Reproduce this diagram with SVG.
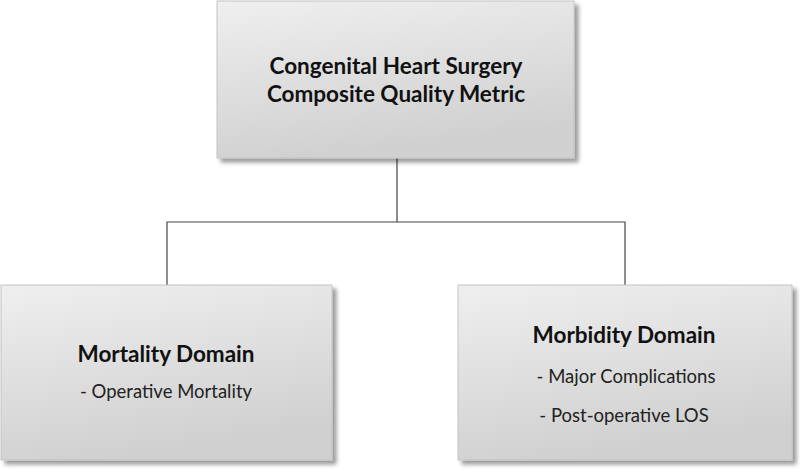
<svg xmlns="http://www.w3.org/2000/svg" width="800" height="470" viewBox="0 0 800 470">
<defs>
<linearGradient id="g" x1="0" y1="0" x2="0.3" y2="1">
<stop offset="0" stop-color="#efefef"/>
<stop offset="1" stop-color="#d0d0d0"/>
</linearGradient>
<filter id="sh" x="-10%" y="-10%" width="130%" height="130%">
<feGaussianBlur in="SourceAlpha" stdDeviation="2.2"/>
<feOffset dx="4" dy="4" result="b"/>
<feComponentTransfer><feFuncA type="linear" slope="0.4"/></feComponentTransfer>
<feMerge><feMergeNode/><feMergeNode in="SourceGraphic"/></feMerge>
</filter>
</defs>
<style>
.box{fill:url(#g);stroke:#c4c4c4;stroke-width:1;filter:url(#sh)}
.t{font-family:Lato,"Open Sans","Liberation Sans",sans-serif;fill:#111;text-anchor:middle}
.b{font-weight:bold;font-size:22.5px}
.s{font-size:18.5px;fill:#222}
.c{fill:none;stroke:#444;stroke-width:1.2}
</style>
<rect width="800" height="470" fill="#fff"/>
<g id="connectors">
<path class="c" d="M397 158 V222 M167 285 V222 H625 V285"/>
</g>
<g id="top">
<rect class="box" x="217" y="1" width="357" height="157"/>
<text class="t b" x="396" y="74">Congenital Heart Surgery</text>
<text class="t b" x="396" y="102">Composite Quality Metric</text>
</g>
<g id="mortality">
<rect class="box" x="1" y="285" width="331" height="175"/>
<text class="t b" x="166" y="362">Mortality Domain</text>
<text class="t s" x="166" y="398">- Operative Mortality</text>
</g>
<g id="morbidity">
<rect class="box" x="458" y="285" width="334" height="175"/>
<text class="t b" x="624" y="343">Morbidity Domain</text>
<text class="t s" x="626" y="383">- Major Complications</text>
<text class="t s" x="624" y="422">- Post-operative LOS</text>
</g>
</svg>
